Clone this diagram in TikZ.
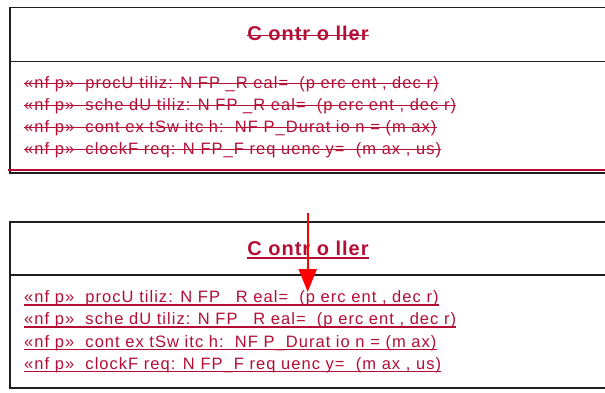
\documentclass[tikz,border=0pt]{standalone}
\usepackage{fontspec}
\setmainfont{Liberation Sans}
\newfontfamily\attrfont[LetterSpace=6.3]{Liberation Sans}
\newfontfamily\headfont[LetterSpace=5]{Liberation Sans}
\usetikzlibrary{arrows.meta}
\definecolor{umlred}{RGB}{180,14,55}
\definecolor{boxline}{RGB}{30,30,30}
\begin{document}
\begin{tikzpicture}[x=1pt,y=-1pt,
  boxedge/.style={draw=boxline,line width=1.3pt},
  attr/.style={anchor=base west,inner sep=0pt,text=umlred,font=\attrfont\fontsize{16.5}{19}\selectfont},
  classtitle/.style={anchor=base,inner sep=0pt,text=umlred,font=\headfont\bfseries\fontsize{20}{24}\selectfont},
  strike/.style={draw=umlred,line width=1pt},
  uline/.style={draw=umlred,line width=1.6pt},
  assoc/.style={draw=red,line width=2pt,-{Triangle[width=18pt,length=23pt]}},
]
\useasboundingbox (0,0) rectangle (605,392);
\fill[white] (0,0) rectangle (605,392);

% ---------- top (deleted) class ----------
\draw[boxedge] (625,7.5) -- (10,7.5) -- (10,173) -- (625,173);
\draw[boxedge] (10,61.5) -- (625,61.5);
\draw[umlred,line width=2pt] (8,170) -- (625,170);

\node[classtitle] (t1) at (308,40) {C ontr o ller};
\draw[strike] ([yshift=4.3pt]t1.base west) -- ([yshift=4.3pt]t1.base east);

\node[attr] (a1) at (24,88.5) {«nf p»\ \ procU tiliz: N FP \_R eal=\ \ (p erc ent , dec r)};
\node[attr] (a2) at (24,110.5) {«nf p»\ \ sche dU tiliz: N FP \_R eal=\ \ (p erc ent , dec r)};
\node[attr] (a3) at (24,132.5) {«nf p»\ \ cont ex tSw itc h:\ \ NF P\_Durat io n = (m ax)};
\node[attr] (a4) at (24,154.5) {«nf p»\ \ clockF req: N FP\_F req uenc y=\ \ (m ax , us)};
\foreach \n in {a1,a2,a3,a4}
  \draw[strike] ([yshift=4.6pt]\n.base west) -- ([yshift=4.6pt]\n.base east);

% ---------- bottom (added) class ----------
\draw[boxedge] (625,222) -- (10,222) -- (10,388) -- (625,388);
\draw[boxedge] (10,275) -- (625,275);

\node[classtitle] (t2) at (308,255) {C ontr o ller};
\draw[uline] ([yshift=-3pt]t2.base west) -- ([yshift=-3pt]t2.base east);

\node[attr] (b1) at (24,302.5) {«nf p»\ \ procU tiliz: N FP \_R eal=\ \ (p erc ent , dec r)};
\node[attr] (b2) at (24,324.5) {«nf p»\ \ sche dU tiliz: N FP \_R eal=\ \ (p erc ent , dec r)};
\node[attr] (b3) at (24,347) {«nf p»\ \ cont ex tSw itc h:\ \ NF P\_Durat io n = (m ax)};
\node[attr] (b4) at (24,369) {«nf p»\ \ clockF req: N FP\_F req uenc y=\ \ (m ax , us)};
\foreach \n in {b1,b2,b3,b4}
  \draw[uline] ([yshift=-2.5pt]\n.base west) -- ([yshift=-2.5pt]\n.base east);

% ---------- connector ----------
\coordinate (arrowtail) at (307.7,213);
\coordinate (arrowtip) at (307.7,292);
\draw[assoc] (arrowtail) -- (arrowtip);
\end{tikzpicture}
\end{document}
